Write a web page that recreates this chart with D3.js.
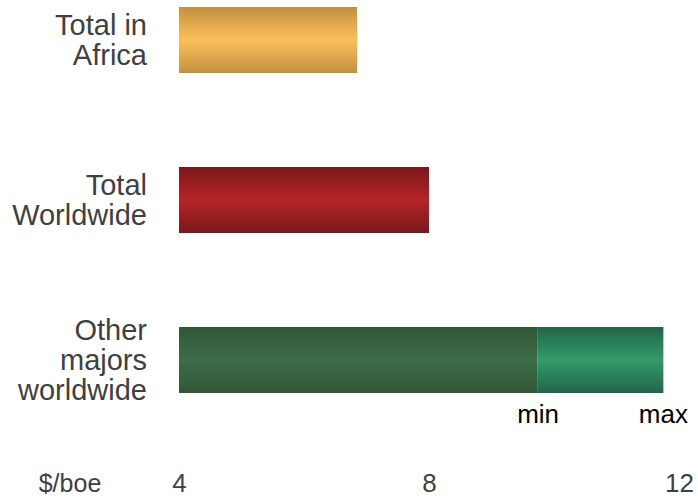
<!DOCTYPE html>
<html>
<head>
<meta charset="utf-8">
<script src="https://cdn.jsdelivr.net/npm/d3@7/dist/d3.min.js"></script>
<style>
  html, body { margin: 0; padding: 0; background: #fff; }
  svg { display: block; font-family: "Liberation Sans", Arial, sans-serif; }
</style>
</head>
<body>
<svg id="chart" width="698" height="499"></svg>
<script>
const categories = [
  ["Total in", "Africa"],
  ["Total", "Worldwide"],
  ["Other", "majors", "worldwide"]
];
const categoryKeys = ["africa", "worldwide", "majors"];
const baseValue = 4;
const barValues = [6.85, 8.0, 9.73];   // solid bar end (min for majors)
const maxValues = [null, null, 11.75]; // range extension (max)
const tickValues = [4, 8, 12];
const unitLabel = "$/boe";

const svg = d3.select("#chart");
const x = d3.scaleLinear().domain([4, 12]).range([179, 679]);
const y = d3.scaleBand().domain(categoryKeys).range([-40, 440]).paddingInner(0.59).paddingOuter(0.295);

const gradSpecs = {
  africa: ["#c1903f", "#fdbf5b"],
  worldwide: ["#7a191b", "#b52326"],
  majorsMin: ["#315636", "#3e6d48"],
  majorsMax: ["#22644a", "#339b69"]
};
const defs = svg.append("defs");
Object.entries(gradSpecs).forEach(([k, [edge, mid]]) => {
  const g = defs.append("linearGradient").attr("id", "g-" + k)
    .attr("x1", 0).attr("y1", 0).attr("x2", 0).attr("y2", 1);
  g.append("stop").attr("offset", "0%").attr("stop-color", edge);
  g.append("stop").attr("offset", "50%").attr("stop-color", mid);
  g.append("stop").attr("offset", "100%").attr("stop-color", edge);
});

// bars
const bh = 66;
categoryKeys.forEach((k, i) => {
  const cy = y(k) + y.bandwidth() / 2;
  const gid = k === "majors" ? "majorsMin" : k;
  svg.append("rect")
    .attr("x", x(baseValue)).attr("y", cy - bh / 2)
    .attr("width", x(barValues[i]) - x(baseValue)).attr("height", bh)
    .attr("fill", `url(#g-${gid})`);
  if (maxValues[i] != null) {
    svg.append("rect")
      .attr("x", x(barValues[i])).attr("y", cy - bh / 2)
      .attr("width", x(maxValues[i]) - x(barValues[i])).attr("height", bh)
      .attr("fill", "url(#g-majorsMax)");
    svg.append("text").attr("x", x(barValues[i]) + 1).attr("y", cy + 63)
      .attr("text-anchor", "middle").attr("font-size", 26).attr("fill", "#000").text("min");
    svg.append("text").attr("x", x(maxValues[i])).attr("y", cy + 63)
      .attr("text-anchor", "middle").attr("font-size", 26).attr("fill", "#000").text("max");
  }
});

// category labels
categoryKeys.forEach((k, i) => {
  const cy = y(k) + y.bandwidth() / 2;
  const lines = categories[i];
  const lh = 30;
  const first = cy - (lines.length - 1) * lh / 2 + 10;
  const t = svg.append("text").attr("text-anchor", "end").attr("font-size", 29).attr("fill", "#404040");
  lines.forEach((l, j) => {
    t.append("tspan").attr("x", 147).attr("y", first + j * lh).text(l);
  });
});

// x axis (tick labels only)
const axis = d3.axisBottom(x).tickValues(tickValues).tickSize(0).tickPadding(0).tickFormat(d3.format("d"));
const ax = svg.append("g").attr("transform", "translate(0,472)").call(axis);
ax.select(".domain").remove();
ax.selectAll("text").attr("font-size", 26).attr("fill", "#404040")
  .attr("font-family", "Liberation Sans, Arial, sans-serif").attr("dy", "0.77em");

svg.append("text").attr("x", 70).attr("y", 492).attr("text-anchor", "middle")
  .attr("font-size", 25).attr("fill", "#404040").text(unitLabel);
</script>
</body>
</html>
